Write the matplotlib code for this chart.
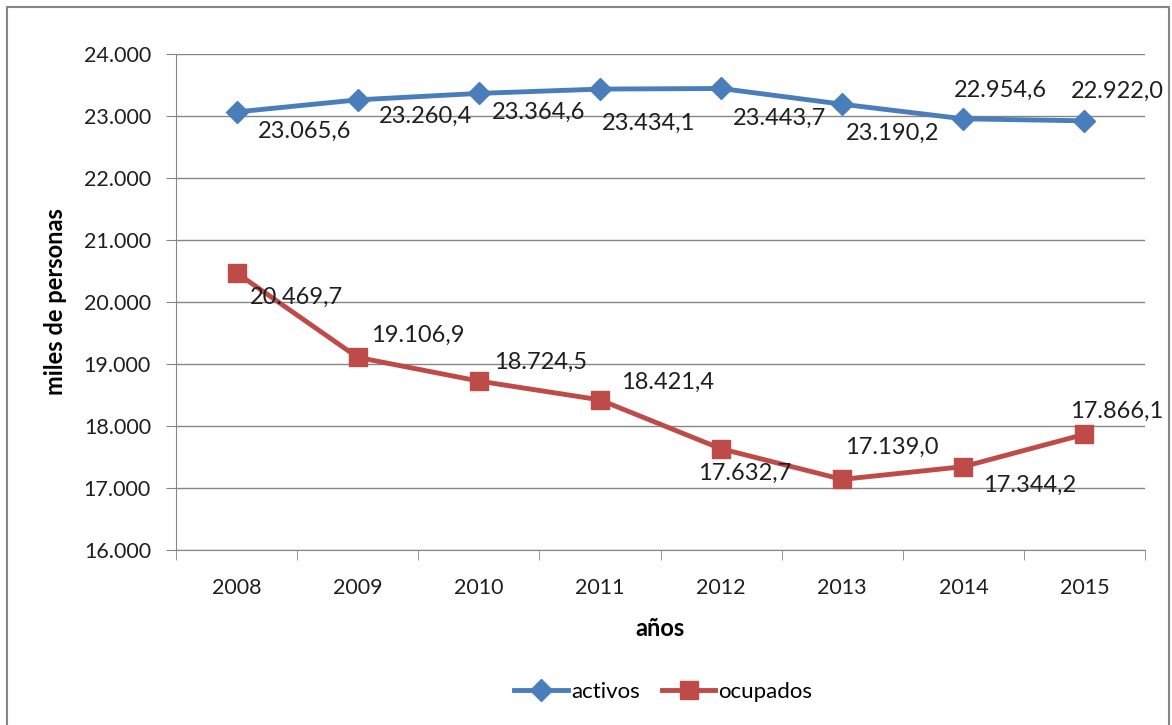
import matplotlib.pyplot as plt
from matplotlib.patches import Rectangle
from matplotlib.ticker import FuncFormatter

plt.rcParams['font.family'] = ['Lato', 'DejaVu Sans']

years = ['2008', '2009', '2010', '2011', '2012', '2013', '2014', '2015']
activos = [23065.6, 23260.4, 23364.6, 23434.1, 23443.7, 23190.2, 22954.6, 22922.0]
ocupados = [20469.7, 19106.9, 18724.5, 18421.4, 17632.7, 17139.0, 17344.2, 17866.1]

# label offsets in pixels (dx, dy), hand placed like the original
off_act = [(68, -19), (68, -16), (60, -19), (49, -34), (58, -30), (50, -29), (37, 28), (33, 29)]
off_ocu = [(60, -24), (60, 22), (62, 19), (68, 18), (24, -25), (50, 32), (66, -19), (32, 23)]

blue = '#4A7EBB'
red = '#BE4B48'
txt = '#1f1f1f'

def es_num(v, dec=0):
    s = f'{v:,.{dec}f}'
    return s.replace(',', 'X').replace('.', ',').replace('X', '.')

fig = plt.figure(figsize=(11.72, 7.25), dpi=100)
ax = fig.add_axes([176 / 1172, 1 - 550 / 725, (1145 - 176) / 1172, (550 - 54) / 725])

x = list(range(len(years)))
ax.plot(x, activos, color=blue, lw=3.5, marker='D', ms=11, label='activos', zorder=3)
ax.plot(x, ocupados, color=red, lw=3.5, marker='s', ms=13.5, label='ocupados', zorder=3)

for i in x:
    ax.annotate(es_num(activos[i], 1), (i, activos[i]), xytext=off_act[i],
                textcoords='offset pixels', ha='center', va='center', fontsize=17, color=txt)
    ax.annotate(es_num(ocupados[i], 1), (i, ocupados[i]), xytext=off_ocu[i],
                textcoords='offset pixels', ha='center', va='center', fontsize=17, color=txt)

ax.set_xlim(-0.5, len(years) - 0.5)
ax.set_ylim(16000, 24000)
ax.set_yticks(range(16000, 24001, 1000))
ax.yaxis.set_major_formatter(FuncFormatter(lambda v, p: es_num(v)))
ax.set_xticks(x)
ax.set_xticklabels(years)
ax.set_xticks([i - 0.5 for i in range(len(years) + 1)], minor=True)
ax.tick_params(axis='x', which='major', length=0, pad=20, labelsize=15.5, colors=txt)
ax.tick_params(axis='x', which='minor', length=7, color='#868686', direction='out')
ax.tick_params(axis='y', length=7, color='#868686', labelsize=15.5, pad=11, labelcolor=txt)
ax.grid(axis='y', color='#868686', lw=1)
ax.set_axisbelow(True)
for s in ['top', 'right']:
    ax.spines[s].set_visible(False)
for s in ['left', 'bottom']:
    ax.spines[s].set_color('#868686')

ax.set_xlabel('años', fontsize=17, fontweight='bold', labelpad=14, color='black')
ax.set_ylabel('miles de personas', fontsize=17, fontweight='bold', labelpad=12, color='black')

fig.legend(loc='center', bbox_to_anchor=(0.566, 1 - 692 / 725), ncol=2, frameon=False,
           fontsize=16, handlelength=2.4, columnspacing=1.0, handletextpad=0.15)

fig.patches.append(Rectangle((7 / 1172, -0.01), (1169 - 7) / 1172, 1.0, transform=fig.transFigure,
                             fill=False, edgecolor='#868686', lw=1.5))

fig.savefig('out.png', dpi=100)
